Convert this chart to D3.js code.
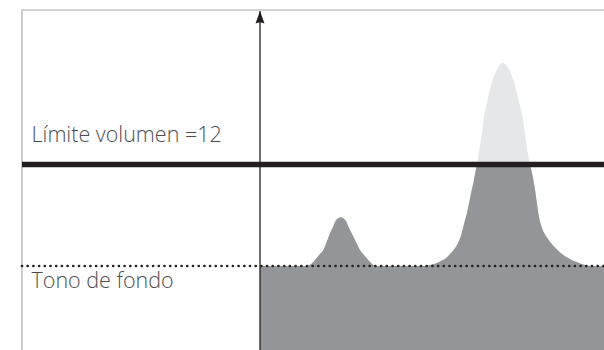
<!DOCTYPE html>
<html>
<head>
<meta charset="utf-8">
<script src="https://cdn.jsdelivr.net/npm/d3@7"></script>
<style>
  html, body { margin: 0; padding: 0; background: #fff; }
  svg { display: block; }
  .lbl { font-family: "Open Sans", sans-serif; font-weight: 300; fill: #4d4d4f; }
</style>
</head>
<body>
<svg id="chart" width="604" height="350"></svg>
<script>
// ---- data ----
const timeValues   = [0, 13.37, 14.83, 15.99, 17.15, 18.40, 19.48, 20.35, 21.22, 21.95, 23.46,
                      25.0, 25.73, 26.66, 27.76, 29.07, 30.23, 31.48, 32.56, 34.01,
                      47.97, 50.0, 52.03, 54.07, 55.52, 56.69, 57.56, 58.28, 58.87, 59.45, 60.09,
                      60.76, 61.34, 62.01, 62.94, 63.75, 64.53, 65.12, 66.13, 67.36, 68.81, 70.55,
                      72.47, 73.92, 75.15, 76.37, 77.03, 77.70, 78.63, 79.65, 80.38, 81.10,
                      81.98, 83.34, 84.59, 86.05, 87.79, 89.83, 92.06, 94.48, 96.51, 100];
const volumeValues = [5, 5, 5.14, 5.41, 5.76, 6.10, 6.72, 7.26, 7.69, 8.10, 8.36,
                      8.10, 7.69, 7.26, 6.72, 6.10, 5.76, 5.41, 5.14, 5,
                      5, 5.10, 5.28, 5.55, 5.90, 6.24, 6.59, 7.0, 7.48, 8.03, 8.59,
                      9.34, 10.03, 10.72, 11.90, 13.0, 14.17, 15.28, 16.45, 17.62, 18.52, 19.02,
                      18.52, 17.62, 16.45, 15.28, 14.17, 13.0, 11.90, 10.72, 9.55, 8.40,
                      7.62, 7.0, 6.59, 6.21, 5.83, 5.52, 5.28, 5.07, 5, 5];
const limitValue = 12;           // "Límite volumen =12"
const backgroundValue = 5;       // "Tono de fondo"
const labels = ["Límite volumen =12", "Tono de fondo"];

// ---- layout ----
const W = 604, H = 350;
const frameLeft = 22, frameTop = 10;
const svg = d3.select("#chart");

const x = d3.scaleLinear().domain([0, 100]).range([260, 604]);
const y = d3.scaleLinear().domain([0, 12]).range([338.5, 164.5]);

// frame
svg.append("path")
  .attr("d", `M${frameLeft},${H} V${frameTop} H${W}`)
  .attr("fill", "none").attr("stroke", "#a7a9ac").attr("stroke-width", 1.2);

const pts = timeValues.map((t, i) => [t, volumeValues[i]]);
const area = d3.area()
  .x(d => x(d[0]))
  .y0(H)
  .y1(d => y(d[1]))
  .curve(d3.curveMonotoneX);

const defs = svg.append("defs");
defs.append("clipPath").attr("id", "below")
  .append("rect").attr("x", 0).attr("y", y(limitValue)).attr("width", W).attr("height", H);
defs.append("marker").attr("id", "arrow")
  .attr("viewBox", "-6 -1 12 14").attr("markerWidth", 12).attr("markerHeight", 14)
  .attr("refX", 0).attr("refY", 0).attr("markerUnits", "userSpaceOnUse").attr("orient", "0")
  .append("path").attr("d", "M0,0 L-4.5,12.5 Q0,10.5 4.5,12.5 Z").attr("fill", "#231f20");

svg.append("path").datum(pts).attr("d", area).attr("fill", "#e6e7e8");
svg.append("path").datum(pts).attr("d", area).attr("fill", "#939598").attr("clip-path", "url(#below)");

// background tone dotted line
svg.append("line")
  .attr("x1", frameLeft).attr("x2", W)
  .attr("y1", y(backgroundValue)).attr("y2", y(backgroundValue))
  .attr("stroke", "#231f20").attr("stroke-width", 2.7)
  .attr("stroke-linecap", "round").attr("stroke-dasharray", "0,5.7");

// limit line
svg.append("line")
  .attr("x1", frameLeft).attr("x2", W)
  .attr("y1", y(limitValue)).attr("y2", y(limitValue))
  .attr("stroke", "#231f20").attr("stroke-width", 5.5);

// vertical axis with arrow
svg.append("line")
  .attr("x1", x(0)).attr("x2", x(0))
  .attr("y1", H).attr("y2", 11)
  .attr("stroke", "#231f20").attr("stroke-width", 1.3)
  .attr("marker-end", "url(#arrow)");

// labels
svg.append("text").attr("class", "lbl")
  .attr("x", 31.5).attr("y", y(limitValue) - 23)
  .attr("font-size", 21.5).text(labels[0]);
svg.append("text").attr("class", "lbl")
  .attr("x", 31.5).attr("y", y(backgroundValue) + 21.5)
  .attr("font-size", 21.5).text(labels[1]);
</script>
</body>
</html>
